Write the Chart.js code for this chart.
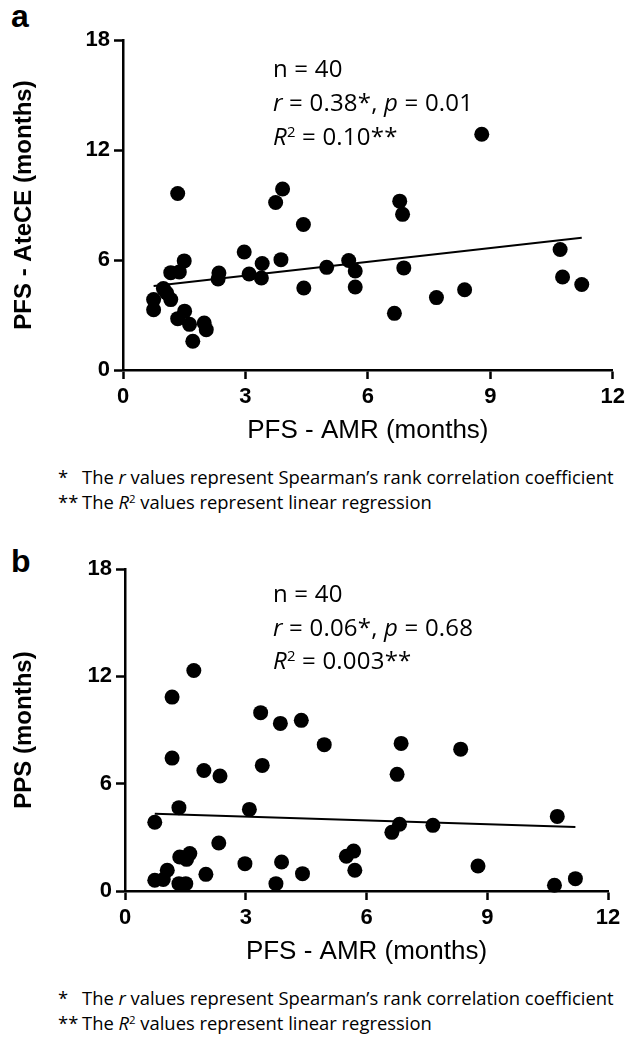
<!DOCTYPE html>
<html>
<head>
<meta charset="utf-8">
<script src="https://cdn.jsdelivr.net/npm/chart.js@4.4.0/dist/chart.umd.min.js"></script>
<style>
  body { margin: 0; width: 630px; height: 1037px; background: #fff; position: relative; overflow: hidden; color: #000; }
  canvas { position: absolute; left: 0; }
  .panel { position: absolute; left: 11px; font: bold 32px "Liberation Sans", Arial, sans-serif; line-height: 32px; }
  .stats { position: absolute; left: 273px; font: 24px "Open Sans", sans-serif; letter-spacing: 0.2px; white-space: nowrap; }
  .note { position: absolute; left: 58px; font: 18.4px "Open Sans", sans-serif; line-height: 25px; white-space: nowrap; }
  .note span { display: inline-block; width: 24px; }
  sup { font-size: 0.62em; vertical-align: 0; position: relative; top: -0.55em; line-height: 0; }
</style>
</head>
<body>
<div class="panel" style="top:0px">a</div>
<div class="panel" style="top:545px">b</div>

<canvas id="chartA" width="630" height="450" style="top:0px"></canvas>
<canvas id="chartB" width="630" height="442" style="top:529px"></canvas>

<div class="stats" style="top:51px; line-height:34px">
  n = 40<br><i>r</i> = 0.38*, <i>p</i> = 0.01<br><i>R</i><sup>2</sup> = 0.10**
</div>
<div class="stats" style="top:576px; line-height:33.5px">
  n = 40<br><i>r</i> = 0.06*, <i>p</i> = 0.68<br><i>R</i><sup>2</sup> = 0.003**
</div>

<div class="note" style="top:464px">
  <span>*</span>The <i>r</i> values represent Spearman’s rank correlation coefficient<br>
  <span>**</span>The <i>R</i><sup>2</sup> values represent linear regression
</div>
<div class="note" style="top:985px">
  <span>*</span>The <i>r</i> values represent Spearman’s rank correlation coefficient<br>
  <span>**</span>The <i>R</i><sup>2</sup> values represent linear regression
</div>

<script>
// panel a: PFS - AMR vs PFS - AteCE (months)
const amrA = [0.75, 0.75, 0.99, 1.07, 1.17, 1.17, 1.34, 1.34, 1.38, 1.50,
              1.51, 1.63, 1.71, 1.99, 2.04, 2.33, 2.35, 2.97, 3.09, 3.39,
              3.41, 3.74, 3.87, 3.91, 4.42, 4.43, 4.99, 5.53, 5.69, 5.69,
              6.65, 6.78, 6.85, 6.88, 7.68, 8.37, 8.79, 10.71, 10.77, 11.24];
const atece = [3.84, 3.29, 4.44, 4.20, 3.84, 5.31, 9.63, 2.80, 5.35, 5.95,
               3.21, 2.49, 1.57, 2.56, 2.20, 4.96, 5.29, 6.44, 5.24, 5.02,
               5.81, 9.14, 6.02, 9.87, 7.94, 4.47, 5.60, 5.97, 5.40, 4.53,
               3.09, 9.21, 8.49, 5.57, 3.95, 4.38, 12.86, 6.57, 5.07, 4.66];
const fitAx = [0.75, 11.24];
const fitAy = [4.58, 7.21];

// panel b: PFS - AMR vs PPS (months)
const amrB = [0.74, 0.74, 0.95, 1.05, 1.17, 1.17, 1.34, 1.34, 1.36, 1.51,
              1.53, 1.61, 1.71, 1.96, 2.01, 2.33, 2.36, 2.98, 3.09, 3.37,
              3.41, 3.75, 3.86, 3.89, 4.38, 4.41, 4.95, 5.50, 5.68, 5.71,
              6.63, 6.76, 6.82, 6.86, 7.65, 8.34, 8.77, 10.67, 10.74, 11.19];
const pps = [3.84, 0.60, 0.64, 1.16, 10.84, 7.43, 4.66, 0.41, 1.90, 0.41,
             1.77, 2.09, 12.33, 6.74, 0.93, 2.68, 6.43, 1.53, 4.56, 9.97,
             7.02, 0.41, 9.37, 1.62, 9.54, 0.97, 8.18, 1.94, 2.23, 1.16,
             3.28, 6.52, 3.73, 8.25, 3.67, 7.93, 1.40, 0.32, 4.17, 0.69];
const fitBx = [0.74, 11.19];
const fitBy = [4.32, 3.58];

const xMax = 12, xStep = 3;
const yMax = 18, yStep = 6;

Chart.defaults.font.family = '"Liberation Sans", Arial, sans-serif';
Chart.defaults.color = '#000';

function makeChart(id, xs, ys, lx, ly, yTitle, yWidth, padRight) {
  const ctx = document.getElementById(id).getContext('2d');
  const tickFont = { size: 22, weight: 'bold' };
  return new Chart(ctx, {
    type: 'scatter',
    data: {
      datasets: [
        {
          data: xs.map((x, i) => ({ x: x, y: ys[i] })),
          backgroundColor: '#000',
          borderWidth: 0,
          pointRadius: 7.5,
          pointHoverRadius: 7.5,
          clip: false
        },
        {
          type: 'line',
          data: lx.map((x, i) => ({ x: x, y: ly[i] })),
          borderColor: '#000',
          borderWidth: 2,
          pointRadius: 0,
          fill: false,
          clip: false
        }
      ]
    },
    options: {
      responsive: false,
      animation: false,
      events: [],
      layout: { padding: { top: 40, right: padRight, left: 0, bottom: 0 } },
      plugins: { legend: { display: false }, tooltip: { enabled: false } },
      scales: {
        x: {
          type: 'linear', min: 0, max: xMax,
          ticks: { stepSize: xStep, font: tickFont, color: '#000', padding: 5 },
          grid: { drawOnChartArea: false, tickLength: 9, tickColor: '#000', tickWidth: 2.5 },
          border: { color: '#000', width: 2.5 },
          title: { display: true, text: 'PFS - AMR (months)', color: '#000',
                   font: { size: 26 }, padding: { top: 0, bottom: 4 } },
          afterFit: (scale) => { scale.height = 80; }
        },
        y: {
          type: 'linear', min: 0, max: yMax,
          ticks: { stepSize: yStep, font: tickFont, color: '#000', padding: 4 },
          grid: { drawOnChartArea: false, tickLength: 9, tickColor: '#000', tickWidth: 2.5 },
          border: { color: '#000', width: 2.5 },
          title: { display: true, text: yTitle, color: '#000',
                   font: { size: 24, weight: 'bold' }, padding: { top: 10, bottom: 0 } },
          afterFit: (scale) => { scale.width = yWidth; }
        }
      }
    }
  });
}

makeChart('chartA', amrA, atece, fitAx, fitAy, 'PFS - AteCE (months)', 123, 16);
makeChart('chartB', amrB, pps, fitBx, fitBy, 'PPS (months)', 125, 22);
</script>
</body>
</html>
